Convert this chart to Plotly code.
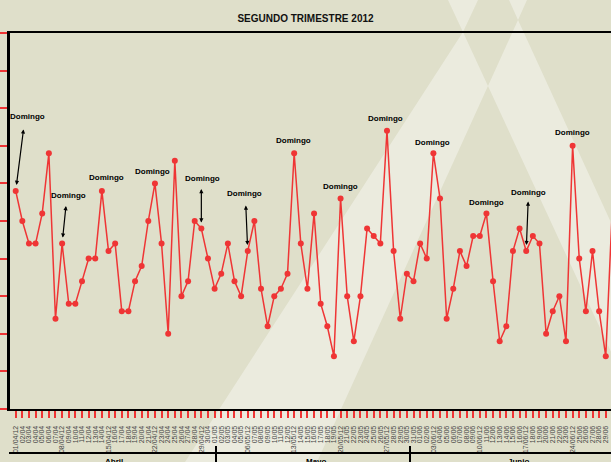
import datetime as dt

import plotly.graph_objects as go

# ─── Data ────────────────────────────────────────────────────────────────────

TITLE = "SEGUNDO TRIMESTRE 2012"
START = dt.date(2012, 4, 1)

VALUES = [29, 25, 22, 22, 26, 34, 12, 22, 14, 14,
          17, 20, 20, 29, 21, 22, 13, 13, 17, 19,
          25, 30, 22, 10, 33, 15, 17, 25, 24, 20,
          16, 18, 22, 17, 15, 21, 25, 16, 11, 15,
          16, 18, 34, 22, 16, 26, 14, 11, 7, 28,
          15, 9, 15, 24, 23, 22, 37, 21, 12, 18,
          17, 22, 20, 34, 28, 12, 16, 21, 19, 23,
          23, 26, 17, 9, 11, 21, 24, 21, 23, 22,
          10, 13, 15, 9, 35, 20, 13, 21, 13, 7, 27]

DATES = [START + dt.timedelta(days=i) for i in range(len(VALUES))]
TICK_LABELS = [d.strftime("%d/%m/%y") if d.weekday() == 6 else d.strftime("%d/%m")
               for d in DATES]

MONTHS = ["Abril", "Mayo", "Junio"]
DOMINGO_TEXT = "Domingo"
# day index of each "Domingo" note, and the ones that carry an arrow
DOMINGO_DAYS = [0, 7, 13, 21, 28, 35, 42, 49, 56, 63, 71, 77, 84]
ARROW_DAYS = [0, 7, 28, 35, 77]

# ─── Design tokens ───────────────────────────────────────────────────────────

W, H = 611, 462
L, T, PW, PH = 10, 33, 601, 376          # plot area in pixels
PX_PER_DAY = 6.63
X0 = -5.7 / PX_PER_DAY
BG = "#dfdfca"
RED = "#ef3535"
FONT = "Liberation Sans"
NARROW = "Liberation Sans Narrow, Liberation Sans"

# label offsets (px) of each Domingo note from its point
LABEL_OFFSETS = {0: (12, 74), 7: (6, 48), 13: (5, 13), 21: (-2, 12), 28: (1, 50),
                 35: (-3, 58), 42: (-1, 13), 49: (0, 12), 56: (-1, 12), 63: (-1, 11),
                 71: (0, 11), 77: (2, 59), 84: (0, 13)}
ARROW_TAILS = {0: (8, -63), 7: (4, -39), 28: (0, -41), 35: (-2, -47), 77: (2, -51)}


def paper(px, py):
    return (px - L) / PW, (T + PH - py) / PH


def poly_path(points):
    pts = [paper(x, y) for x, y in points]
    return "M " + " L ".join(f"{x:.4f},{y:.4f}" for x, y in pts) + " Z"


def background_shapes():
    a, b, p = (463, 32), (518, 20), (488, 86)
    polys = [
        [(448, 0), (478, 0), a],
        [(509, 0), (527, 0), b],
        [a, p, (317, 462), (185, 462)],
        [b, (721, 462), (662, 462), p],
    ]
    return [dict(type="path", path=poly_path(pp), xref="paper", yref="paper",
                 fillcolor="rgba(255,255,255,0.38)", line_width=0, layer="below")
            for pp in polys]


def month_shapes():
    shapes = []
    y_line = paper(0, 453)[1]
    shapes.append(dict(type="line", xref="paper", yref="paper", x0=paper(9, 0)[0],
                       x1=1.02, y0=y_line, y1=y_line, line=dict(color="black", width=2)))
    for px in (216, 410):
        xp = paper(px, 0)[0]
        shapes.append(dict(type="line", xref="paper", yref="paper", x0=xp, x1=xp,
                           y0=paper(0, 446)[1], y1=paper(0, 464)[1],
                           line=dict(color="black", width=2)))
    return shapes


def annotations():
    ann = []
    for d in DOMINGO_DAYS:
        dx, dy = LABEL_OFFSETS[d]
        ann.append(dict(x=d, y=VALUES[d], text=f"<b>{DOMINGO_TEXT}</b>", showarrow=False,
                        xshift=dx, yshift=dy, font=dict(family=FONT, size=8, color="black")))
    for d in ARROW_DAYS:
        ax, ay = ARROW_TAILS[d]
        ann.append(dict(x=d, y=VALUES[d], text="", showarrow=True, ax=ax, ay=ay,
                        arrowside="end+start", arrowhead=2, startarrowhead=2,
                        arrowsize=0.7, startarrowsize=0.7, arrowwidth=1.2,
                        arrowcolor="black", standoff=6))
    for name, cx in zip(MONTHS, (114, 316, 518)):
        ann.append(dict(xref="paper", yref="paper", x=paper(cx, 0)[0], y=paper(0, 455)[1],
                        xanchor="center", yanchor="top", text=f"<b>{name}</b>",
                        showarrow=False, font=dict(family=FONT, size=8, color="black")))
    return ann


# ─── Figure ──────────────────────────────────────────────────────────────────

fig = go.Figure(go.Scatter(
    x=list(range(len(VALUES))),
    y=VALUES,
    mode="lines+markers",
    line=dict(color=RED, width=1.5),
    marker=dict(color=RED, size=6),
    cliponaxis=False,
))

fig.update_layout(
    width=W, height=H,
    margin=dict(l=L, r=W - L - PW, t=T, b=H - T - PH, pad=0, autoexpand=False),
    paper_bgcolor=BG,
    plot_bgcolor="rgba(0,0,0,0)",
    showlegend=False,
    title=dict(text=f"<b>{TITLE}</b>", x=0.5, xanchor="center", y=1 - 18 / H,
               yanchor="middle", font=dict(family=NARROW, size=10, color="#111"),
               automargin=False),
    shapes=background_shapes() + month_shapes(),
    annotations=annotations(),
)

fig.update_xaxes(
    range=[X0, X0 + PW / PX_PER_DAY],
    automargin=False,
    tickmode="array",
    tickvals=list(range(len(VALUES))),
    ticktext=TICK_LABELS,
    tickangle=-90,
    tickfont=dict(family=NARROW, size=7, color="#444"),
    ticklabelstandoff=5,
    ticks="outside", ticklen=7, tickwidth=2, tickcolor=RED,
    showline=True, linecolor="black", linewidth=2, mirror=True,
    showgrid=False, zeroline=False,
)
fig.update_yaxes(
    range=[0, 50],
    automargin=False,
    dtick=5,
    showticklabels=False,
    ticks="outside", ticklen=9, tickwidth=2, tickcolor=RED,
    showline=True, linecolor="black", linewidth=3,
    showgrid=False, zeroline=False,
)

# the page body has a default 8px margin; drop it so the figure sits at 0,0
fig.write_html("out.html", config={"displayModeBar": False},
               post_script="document.body.style.margin = '0';")
